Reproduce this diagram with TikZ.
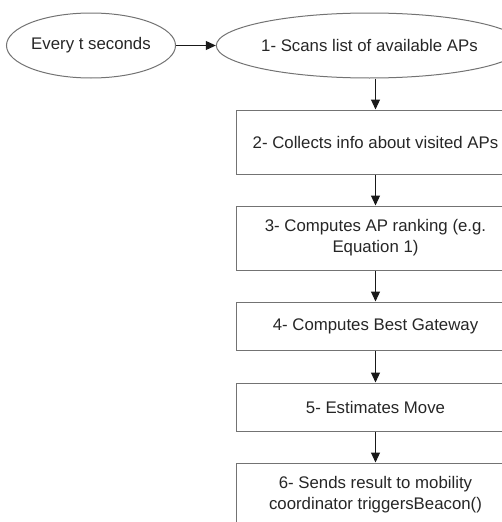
\documentclass[tikz,border=0pt]{standalone}
\usepackage{fontspec}
\setmainfont{Liberation Sans}
\usetikzlibrary{arrows.meta,shapes.geometric}
\begin{document}
\begin{tikzpicture}[x=1pt,y=-1pt,
  every node/.style={font=\fontsize{16.8}{21}\selectfont, text=black!85, align=center, inner sep=0pt},
  oval/.style={draw=black!55, line width=1pt, ellipse},
  stepbox/.style={draw=black!55, line width=1pt, rectangle},
  flow/.style={draw=black!90, line width=1.1pt, -{Triangle[length=10pt,width=9pt]}}]
  \useasboundingbox (0,0) rectangle (502,522);
  % start trigger and first step
  \node[oval, minimum width=158pt, minimum height=65pt] (start) at (91,45.5) {Every t seconds};
  \node[oval, minimum width=265pt, minimum height=65pt] (s1) at (369.5,45.5) {1- Scans list of available APs};
  % processing steps
  \node[stepbox, minimum width=278pt, minimum height=64pt] (s2) at (375.5,142) {2- Collects info about visited APs};
  \node[stepbox, minimum width=278pt, minimum height=64pt] (s3) at (375.5,238) {3- Computes AP ranking (e.g.\\Equation 1)};
  \node[stepbox, minimum width=278pt, minimum height=48pt] (s4) at (375.5,326) {4- Computes Best Gateway};
  \node[stepbox, minimum width=278pt, minimum height=48pt] (s5) at (375.5,407) {5- Estimates Move};
  \node[stepbox, minimum width=278pt, minimum height=64pt] (s6) at (375.5,495) {6- Sends result to mobility\\coordinator triggersBeacon()};
  % connectors
  \draw[flow] (start.east) -- (s1.west);
  \draw[flow] (s1.south -| s2.north) -- (s2.north);
  \draw[flow] (s2.south) -- (s3.north);
  \draw[flow] (s3.south) -- (s4.north);
  \draw[flow] (s4.south) -- (s5.north);
  \draw[flow] (s5.south) -- (s6.north);
\end{tikzpicture}
\end{document}
